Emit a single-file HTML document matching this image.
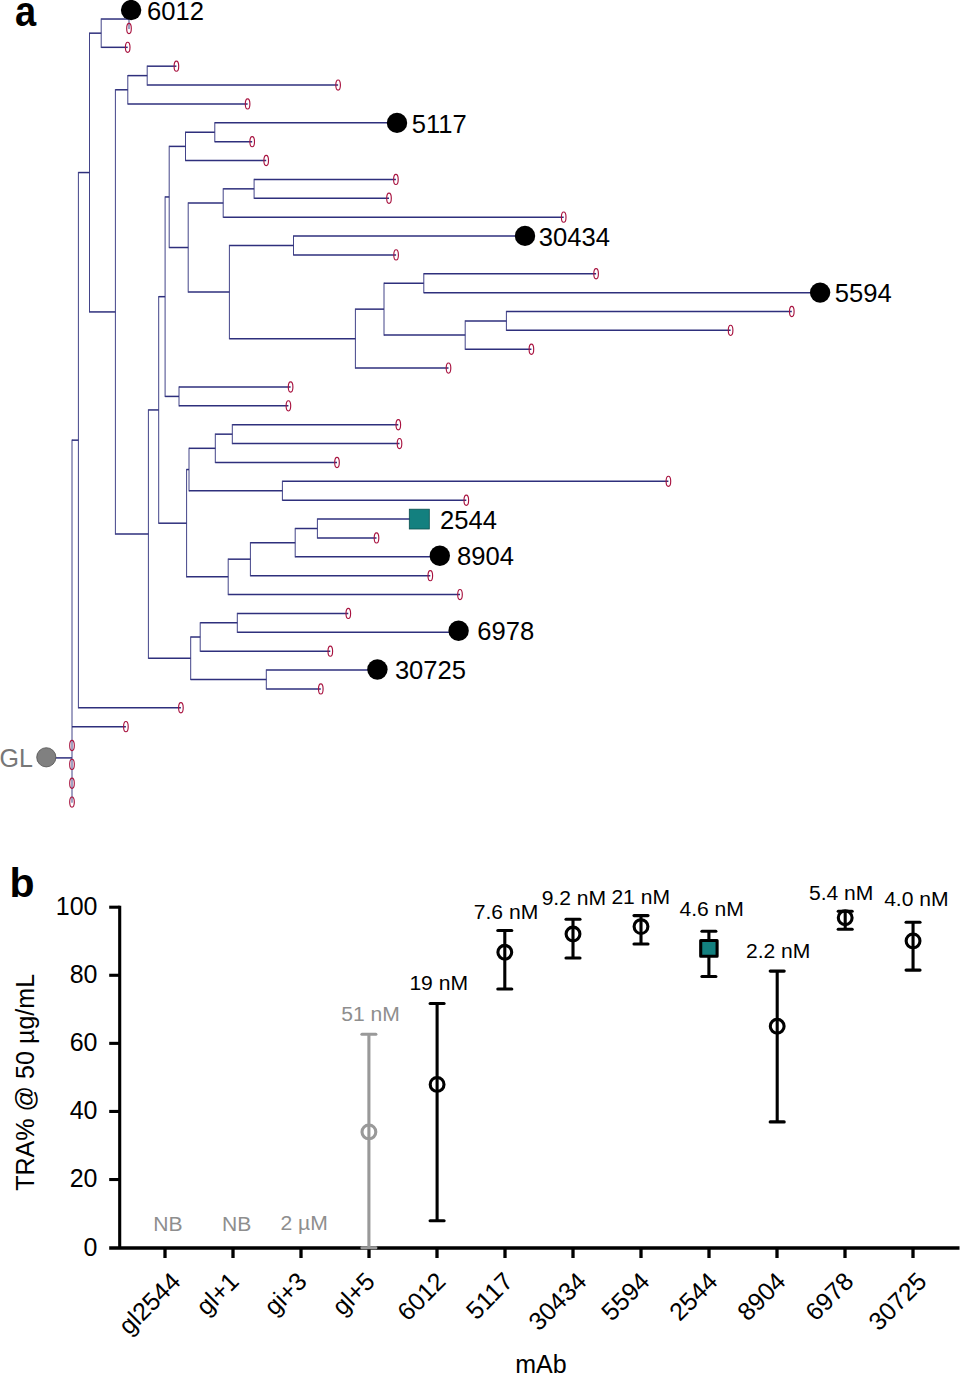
<!DOCTYPE html>
<html><head><meta charset="utf-8"><style>
html,body{margin:0;padding:0;background:#fff;}
svg{display:block;}
text{font-family:"Liberation Sans",sans-serif;}
</style></head><body>
<svg width="961" height="1374" viewBox="0 0 961 1374">
<rect width="961" height="1374" fill="#fff"/>
<text transform="translate(15.0 26) scale(0.885 1)" font-size="43" font-weight="bold">a</text>
<g stroke="#2e2f7c" stroke-width="0.9" fill="none">
<line x1="129.00" y1="8.98" x2="129.00" y2="29.05"/>
<line x1="101.20" y1="18.41" x2="101.20" y2="47.92"/>
<line x1="147.20" y1="65.59" x2="147.20" y2="85.66"/>
<line x1="127.80" y1="75.03" x2="127.80" y2="104.53"/>
<line x1="214.80" y1="122.20" x2="214.80" y2="142.27"/>
<line x1="185.50" y1="131.64" x2="185.50" y2="161.14"/>
<line x1="254.10" y1="178.81" x2="254.10" y2="198.88"/>
<line x1="223.20" y1="188.25" x2="223.20" y2="217.75"/>
<line x1="293.50" y1="235.42" x2="293.50" y2="255.49"/>
<line x1="423.80" y1="273.16" x2="423.80" y2="293.23"/>
<line x1="506.40" y1="310.90" x2="506.40" y2="330.97"/>
<line x1="465.20" y1="320.33" x2="465.20" y2="349.84"/>
<line x1="384.00" y1="282.59" x2="384.00" y2="335.69"/>
<line x1="355.40" y1="308.54" x2="355.40" y2="368.71"/>
<line x1="229.40" y1="244.85" x2="229.40" y2="339.23"/>
<line x1="188.20" y1="202.40" x2="188.20" y2="292.64"/>
<line x1="169.20" y1="145.79" x2="169.20" y2="248.12"/>
<line x1="179.00" y1="386.38" x2="179.00" y2="406.45"/>
<line x1="165.10" y1="196.35" x2="165.10" y2="397.02"/>
<line x1="232.30" y1="424.12" x2="232.30" y2="444.19"/>
<line x1="215.30" y1="433.56" x2="215.30" y2="463.06"/>
<line x1="282.40" y1="480.73" x2="282.40" y2="500.80"/>
<line x1="189.00" y1="447.71" x2="189.00" y2="491.37"/>
<line x1="317.40" y1="518.47" x2="317.40" y2="538.54"/>
<line x1="295.20" y1="527.91" x2="295.20" y2="557.41"/>
<line x1="250.40" y1="542.06" x2="250.40" y2="576.28"/>
<line x1="228.20" y1="558.57" x2="228.20" y2="595.15"/>
<line x1="186.60" y1="468.94" x2="186.60" y2="577.46"/>
<line x1="158.70" y1="296.08" x2="158.70" y2="523.80"/>
<line x1="237.30" y1="612.82" x2="237.30" y2="632.89"/>
<line x1="200.20" y1="622.25" x2="200.20" y2="651.76"/>
<line x1="266.30" y1="669.43" x2="266.30" y2="689.50"/>
<line x1="190.70" y1="636.41" x2="190.70" y2="680.07"/>
<line x1="148.40" y1="409.34" x2="148.40" y2="658.84"/>
<line x1="115.40" y1="89.18" x2="115.40" y2="534.69"/>
<line x1="89.50" y1="32.57" x2="89.50" y2="312.53"/>
<line x1="78.40" y1="171.95" x2="78.40" y2="708.37"/>
<line x1="72.00" y1="439.56" x2="72.00" y2="802.72"/>
</g>
<g stroke="#2e2f7c" stroke-width="1.5" fill="none">
<line x1="101.20" y1="19.02" x2="129.00" y2="19.02"/>
<line x1="101.20" y1="47.32" x2="127.70" y2="47.32"/>
<line x1="89.50" y1="33.17" x2="101.20" y2="33.17"/>
<line x1="147.20" y1="66.19" x2="176.40" y2="66.19"/>
<line x1="147.20" y1="85.06" x2="338.10" y2="85.06"/>
<line x1="127.80" y1="75.62" x2="147.20" y2="75.62"/>
<line x1="127.80" y1="103.93" x2="247.60" y2="103.93"/>
<line x1="115.40" y1="89.78" x2="127.80" y2="89.78"/>
<line x1="214.80" y1="122.80" x2="397.00" y2="122.80"/>
<line x1="214.80" y1="141.67" x2="252.20" y2="141.67"/>
<line x1="185.50" y1="132.24" x2="214.80" y2="132.24"/>
<line x1="185.50" y1="160.54" x2="266.20" y2="160.54"/>
<line x1="169.20" y1="146.39" x2="185.50" y2="146.39"/>
<line x1="254.10" y1="179.41" x2="395.90" y2="179.41"/>
<line x1="254.10" y1="198.28" x2="389.00" y2="198.28"/>
<line x1="223.20" y1="188.84" x2="254.10" y2="188.84"/>
<line x1="223.20" y1="217.15" x2="563.70" y2="217.15"/>
<line x1="188.20" y1="203.00" x2="223.20" y2="203.00"/>
<line x1="293.50" y1="236.02" x2="525.00" y2="236.02"/>
<line x1="293.50" y1="254.89" x2="396.10" y2="254.89"/>
<line x1="229.40" y1="245.45" x2="293.50" y2="245.45"/>
<line x1="423.80" y1="273.76" x2="596.10" y2="273.76"/>
<line x1="423.80" y1="292.63" x2="820.10" y2="292.63"/>
<line x1="384.00" y1="283.19" x2="423.80" y2="283.19"/>
<line x1="506.40" y1="311.50" x2="791.80" y2="311.50"/>
<line x1="506.40" y1="330.37" x2="730.60" y2="330.37"/>
<line x1="465.20" y1="320.94" x2="506.40" y2="320.94"/>
<line x1="465.20" y1="349.24" x2="531.40" y2="349.24"/>
<line x1="384.00" y1="335.09" x2="465.20" y2="335.09"/>
<line x1="355.40" y1="309.14" x2="384.00" y2="309.14"/>
<line x1="355.40" y1="368.11" x2="448.50" y2="368.11"/>
<line x1="229.40" y1="338.63" x2="355.40" y2="338.63"/>
<line x1="188.20" y1="292.04" x2="229.40" y2="292.04"/>
<line x1="169.20" y1="247.52" x2="188.20" y2="247.52"/>
<line x1="165.10" y1="196.95" x2="169.20" y2="196.95"/>
<line x1="179.00" y1="386.98" x2="290.60" y2="386.98"/>
<line x1="179.00" y1="405.85" x2="288.40" y2="405.85"/>
<line x1="165.10" y1="396.42" x2="179.00" y2="396.42"/>
<line x1="158.70" y1="296.68" x2="165.10" y2="296.68"/>
<line x1="232.30" y1="424.72" x2="398.30" y2="424.72"/>
<line x1="232.30" y1="443.59" x2="399.50" y2="443.59"/>
<line x1="215.30" y1="434.16" x2="232.30" y2="434.16"/>
<line x1="215.30" y1="462.46" x2="337.00" y2="462.46"/>
<line x1="189.00" y1="448.31" x2="215.30" y2="448.31"/>
<line x1="282.40" y1="481.33" x2="668.40" y2="481.33"/>
<line x1="282.40" y1="500.20" x2="466.30" y2="500.20"/>
<line x1="189.00" y1="490.76" x2="282.40" y2="490.76"/>
<line x1="186.60" y1="469.54" x2="189.00" y2="469.54"/>
<line x1="317.40" y1="519.07" x2="419.50" y2="519.07"/>
<line x1="317.40" y1="537.94" x2="376.50" y2="537.94"/>
<line x1="295.20" y1="528.51" x2="317.40" y2="528.51"/>
<line x1="295.20" y1="556.81" x2="439.40" y2="556.81"/>
<line x1="250.40" y1="542.66" x2="295.20" y2="542.66"/>
<line x1="250.40" y1="575.68" x2="430.30" y2="575.68"/>
<line x1="228.20" y1="559.17" x2="250.40" y2="559.17"/>
<line x1="228.20" y1="594.55" x2="460.00" y2="594.55"/>
<line x1="186.60" y1="576.86" x2="228.20" y2="576.86"/>
<line x1="158.70" y1="523.20" x2="186.60" y2="523.20"/>
<line x1="148.40" y1="409.94" x2="158.70" y2="409.94"/>
<line x1="237.30" y1="613.42" x2="348.30" y2="613.42"/>
<line x1="237.30" y1="632.29" x2="458.50" y2="632.29"/>
<line x1="200.20" y1="622.86" x2="237.30" y2="622.86"/>
<line x1="200.20" y1="651.16" x2="330.30" y2="651.16"/>
<line x1="190.70" y1="637.01" x2="200.20" y2="637.01"/>
<line x1="266.30" y1="670.03" x2="377.10" y2="670.03"/>
<line x1="266.30" y1="688.90" x2="320.80" y2="688.90"/>
<line x1="190.70" y1="679.47" x2="266.30" y2="679.47"/>
<line x1="148.40" y1="658.24" x2="190.70" y2="658.24"/>
<line x1="115.40" y1="534.09" x2="148.40" y2="534.09"/>
<line x1="89.50" y1="311.93" x2="115.40" y2="311.93"/>
<line x1="78.40" y1="172.55" x2="89.50" y2="172.55"/>
<line x1="78.40" y1="707.77" x2="180.90" y2="707.77"/>
<line x1="72.00" y1="440.16" x2="78.40" y2="440.16"/>
<line x1="72.00" y1="726.64" x2="125.90" y2="726.64"/>
<line x1="46" y1="757.9" x2="72" y2="757.9"/>
</g>
<g stroke="#a8123f" stroke-width="1.15" fill="none">
<ellipse cx="129.00" cy="28.45" rx="2.3" ry="5.1"/>
<ellipse cx="127.70" cy="47.32" rx="2.3" ry="5.1"/>
<ellipse cx="176.40" cy="66.19" rx="2.3" ry="5.1"/>
<ellipse cx="338.10" cy="85.06" rx="2.3" ry="5.1"/>
<ellipse cx="247.60" cy="103.93" rx="2.3" ry="5.1"/>
<ellipse cx="252.20" cy="141.67" rx="2.3" ry="5.1"/>
<ellipse cx="266.20" cy="160.54" rx="2.3" ry="5.1"/>
<ellipse cx="395.90" cy="179.41" rx="2.3" ry="5.1"/>
<ellipse cx="389.00" cy="198.28" rx="2.3" ry="5.1"/>
<ellipse cx="563.70" cy="217.15" rx="2.3" ry="5.1"/>
<ellipse cx="396.10" cy="254.89" rx="2.3" ry="5.1"/>
<ellipse cx="596.10" cy="273.76" rx="2.3" ry="5.1"/>
<ellipse cx="791.80" cy="311.50" rx="2.3" ry="5.1"/>
<ellipse cx="730.60" cy="330.37" rx="2.3" ry="5.1"/>
<ellipse cx="531.40" cy="349.24" rx="2.3" ry="5.1"/>
<ellipse cx="448.50" cy="368.11" rx="2.3" ry="5.1"/>
<ellipse cx="290.60" cy="386.98" rx="2.3" ry="5.1"/>
<ellipse cx="288.40" cy="405.85" rx="2.3" ry="5.1"/>
<ellipse cx="398.30" cy="424.72" rx="2.3" ry="5.1"/>
<ellipse cx="399.50" cy="443.59" rx="2.3" ry="5.1"/>
<ellipse cx="337.00" cy="462.46" rx="2.3" ry="5.1"/>
<ellipse cx="668.40" cy="481.33" rx="2.3" ry="5.1"/>
<ellipse cx="466.30" cy="500.20" rx="2.3" ry="5.1"/>
<ellipse cx="376.50" cy="537.94" rx="2.3" ry="5.1"/>
<ellipse cx="430.30" cy="575.68" rx="2.3" ry="5.1"/>
<ellipse cx="460.00" cy="594.55" rx="2.3" ry="5.1"/>
<ellipse cx="348.30" cy="613.42" rx="2.3" ry="5.1"/>
<ellipse cx="330.30" cy="651.16" rx="2.3" ry="5.1"/>
<ellipse cx="320.80" cy="688.90" rx="2.3" ry="5.1"/>
<ellipse cx="180.90" cy="707.77" rx="2.3" ry="5.1"/>
<ellipse cx="125.90" cy="726.64" rx="2.3" ry="5.1"/>
<ellipse cx="72.00" cy="745.51" rx="2.3" ry="5.1"/>
<ellipse cx="72.00" cy="764.38" rx="2.3" ry="5.1"/>
<ellipse cx="72.00" cy="783.25" rx="2.3" ry="5.1"/>
<ellipse cx="72.00" cy="802.12" rx="2.3" ry="5.1"/>
</g>
<circle cx="131.1" cy="10.1" r="10.2" fill="#000"/>
<circle cx="397.0" cy="122.9" r="10.2" fill="#000"/>
<circle cx="525.0" cy="235.9" r="10.2" fill="#000"/>
<circle cx="820.1" cy="292.6" r="10.2" fill="#000"/>
<circle cx="439.8" cy="555.7" r="10.2" fill="#000"/>
<circle cx="458.6" cy="630.7" r="10.2" fill="#000"/>
<circle cx="377.4" cy="669.5" r="10.2" fill="#000"/>
<rect x="409.3" y="509.2" width="20.0" height="19.8" fill="#13807f" stroke="#0b4e4d" stroke-width="0.8"/>
<circle cx="46.3" cy="757.3" r="9.6" fill="#808080" stroke="#505050" stroke-width="0.8"/>
<text x="-0.5" y="766.7" font-size="25" fill="#777">GL</text>
<g font-size="25.6" fill="#000">
<text x="147.0" y="20.3">6012</text>
<text x="411.7" y="133.3">5117</text>
<text x="538.8" y="245.5">30434</text>
<text x="834.8" y="302.4">5594</text>
<text x="457.1" y="564.9">8904</text>
<text x="477.2" y="640.1">6978</text>
<text x="394.9" y="678.7">30725</text>
<text x="440.0" y="528.7">2544</text>
</g>
<text x="9.6" y="897.4" font-size="41" font-weight="bold">b</text>
<line x1="119.7" y1="905.70" x2="119.7" y2="1248.0" stroke="#000" stroke-width="3.1"/>
<line x1="109.2" y1="1248.0" x2="959.5" y2="1248.0" stroke="#000" stroke-width="3.4"/>
<line x1="109.2" y1="1179.52" x2="119.7" y2="1179.52" stroke="#000" stroke-width="3.1"/>
<line x1="109.2" y1="1111.44" x2="119.7" y2="1111.44" stroke="#000" stroke-width="3.1"/>
<line x1="109.2" y1="1043.36" x2="119.7" y2="1043.36" stroke="#000" stroke-width="3.1"/>
<line x1="109.2" y1="975.28" x2="119.7" y2="975.28" stroke="#000" stroke-width="3.1"/>
<line x1="109.2" y1="907.20" x2="119.7" y2="907.20" stroke="#000" stroke-width="3.1"/>
<line x1="165.0" y1="1248.0" x2="165.0" y2="1258" stroke="#000" stroke-width="3.3"/>
<line x1="233.0" y1="1248.0" x2="233.0" y2="1258" stroke="#000" stroke-width="3.3"/>
<line x1="301.0" y1="1248.0" x2="301.0" y2="1258" stroke="#000" stroke-width="3.3"/>
<line x1="369.0" y1="1248.0" x2="369.0" y2="1258" stroke="#000" stroke-width="3.3"/>
<line x1="437.0" y1="1248.0" x2="437.0" y2="1258" stroke="#000" stroke-width="3.3"/>
<line x1="505.0" y1="1248.0" x2="505.0" y2="1258" stroke="#000" stroke-width="3.3"/>
<line x1="573.0" y1="1248.0" x2="573.0" y2="1258" stroke="#000" stroke-width="3.3"/>
<line x1="641.0" y1="1248.0" x2="641.0" y2="1258" stroke="#000" stroke-width="3.3"/>
<line x1="709.0" y1="1248.0" x2="709.0" y2="1258" stroke="#000" stroke-width="3.3"/>
<line x1="777.0" y1="1248.0" x2="777.0" y2="1258" stroke="#000" stroke-width="3.3"/>
<line x1="845.0" y1="1248.0" x2="845.0" y2="1258" stroke="#000" stroke-width="3.3"/>
<line x1="913.0" y1="1248.0" x2="913.0" y2="1258" stroke="#000" stroke-width="3.3"/>
<g font-size="25" fill="#000">
<text x="97.5" y="1255.50" text-anchor="end">0</text>
<text x="97.5" y="1187.42" text-anchor="end">20</text>
<text x="97.5" y="1119.34" text-anchor="end">40</text>
<text x="97.5" y="1051.26" text-anchor="end">60</text>
<text x="97.5" y="983.18" text-anchor="end">80</text>
<text x="97.5" y="915.10" text-anchor="end">100</text>
</g>
<text transform="translate(33.9 1082.35) rotate(-90)" font-size="25.1" text-anchor="middle">TRA% @ 50 µg/mL</text>
<g stroke="#999999" stroke-width="3.1" fill="none" stroke-linecap="round"><line x1="368.9" y1="1034.2" x2="368.9" y2="1247.7" stroke-linecap="butt"/><line x1="361.90" y1="1034.2" x2="375.90" y2="1034.2"/><line x1="361.90" y1="1247.7" x2="375.90" y2="1247.7"/>
<circle cx="368.9" cy="1131.9" r="6.9"/>
</g>
<g stroke="#000" stroke-width="3.1" fill="none" stroke-linecap="round"><line x1="437.1" y1="1003.5" x2="437.1" y2="1220.7" stroke-linecap="butt"/><line x1="430.10" y1="1003.5" x2="444.10" y2="1003.5"/><line x1="430.10" y1="1220.7" x2="444.10" y2="1220.7"/>
<circle cx="437.1" cy="1084.4" r="6.9"/>
</g>
<g stroke="#000" stroke-width="3.1" fill="none" stroke-linecap="round"><line x1="504.8" y1="930.5" x2="504.8" y2="989.0" stroke-linecap="butt"/><line x1="497.80" y1="930.5" x2="511.80" y2="930.5"/><line x1="497.80" y1="989.0" x2="511.80" y2="989.0"/>
<circle cx="504.8" cy="952.3" r="6.9"/>
</g>
<g stroke="#000" stroke-width="3.1" fill="none" stroke-linecap="round"><line x1="573.0" y1="919.2" x2="573.0" y2="958.0" stroke-linecap="butt"/><line x1="566.00" y1="919.2" x2="580.00" y2="919.2"/><line x1="566.00" y1="958.0" x2="580.00" y2="958.0"/>
<circle cx="573.0" cy="934.0" r="6.9"/>
</g>
<g stroke="#000" stroke-width="3.1" fill="none" stroke-linecap="round"><line x1="641.0" y1="915.6" x2="641.0" y2="944.0" stroke-linecap="butt"/><line x1="634.00" y1="915.6" x2="648.00" y2="915.6"/><line x1="634.00" y1="944.0" x2="648.00" y2="944.0"/>
<circle cx="641.0" cy="926.6" r="6.9"/>
</g>
<g stroke="#000" stroke-width="3.1" fill="none" stroke-linecap="round"><line x1="708.9" y1="931.2" x2="708.9" y2="976.5" stroke-linecap="butt"/><line x1="701.90" y1="931.2" x2="715.90" y2="931.2"/><line x1="701.90" y1="976.5" x2="715.90" y2="976.5"/>
<rect x="700.70" y="940.50" width="16.4" height="15.8" fill="#13807f" stroke-linejoin="round"/>
</g>
<g stroke="#000" stroke-width="3.1" fill="none" stroke-linecap="round"><line x1="777.2" y1="971.1" x2="777.2" y2="1121.9" stroke-linecap="butt"/><line x1="770.20" y1="971.1" x2="784.20" y2="971.1"/><line x1="770.20" y1="1121.9" x2="784.20" y2="1121.9"/>
<circle cx="777.2" cy="1026.2" r="6.9"/>
</g>
<g stroke="#000" stroke-width="3.1" fill="none" stroke-linecap="round"><line x1="845.2" y1="911.2" x2="845.2" y2="929.3" stroke-linecap="butt"/><line x1="838.20" y1="911.2" x2="852.20" y2="911.2"/><line x1="838.20" y1="929.3" x2="852.20" y2="929.3"/>
<circle cx="845.2" cy="917.7" r="6.9"/>
</g>
<g stroke="#000" stroke-width="3.1" fill="none" stroke-linecap="round"><line x1="913.05" y1="922.3" x2="913.05" y2="970.1" stroke-linecap="butt"/><line x1="906.05" y1="922.3" x2="920.05" y2="922.3"/><line x1="906.05" y1="970.1" x2="920.05" y2="970.1"/>
<circle cx="913.05" cy="940.9" r="6.9"/>
</g>
<g font-size="21.1">
<text x="168.0" y="1231.0" fill="#8e8e8e" text-anchor="middle">NB</text>
<text x="236.7" y="1231.0" fill="#8e8e8e" text-anchor="middle">NB</text>
<text x="304.2" y="1229.5" fill="#8e8e8e" text-anchor="middle">2 µM</text>
<text x="370.5" y="1021.0" fill="#8e8e8e" text-anchor="middle">51 nM</text>
<text x="438.7" y="990.2" fill="#000" text-anchor="middle">19 nM</text>
<text x="506.0" y="918.7" fill="#000" text-anchor="middle">7.6 nM</text>
<text x="573.9" y="904.6" fill="#000" text-anchor="middle">9.2 nM</text>
<text x="640.7" y="903.8" fill="#000" text-anchor="middle">21 nM</text>
<text x="711.7" y="916.0" fill="#000" text-anchor="middle">4.6 nM</text>
<text x="778.2" y="958.3" fill="#000" text-anchor="middle">2.2 nM</text>
<text x="841.2" y="899.9" fill="#000" text-anchor="middle">5.4 nM</text>
<text x="916.4" y="905.8" fill="#000" text-anchor="middle">4.0 nM</text>
</g>
<g font-size="25" fill="#000">
<text x="155.5" y="1309.5" text-anchor="middle" transform="rotate(-45 155.5 1309.5)">gl2544</text>
<text x="223.5" y="1299.91" text-anchor="middle" transform="rotate(-45 223.5 1299.91)">gl+1</text>
<text x="291.5" y="1299.91" text-anchor="middle" transform="rotate(-45 291.5 1299.91)">gi+3</text>
<text x="359.5" y="1299.91" text-anchor="middle" transform="rotate(-45 359.5 1299.91)">gl+5</text>
<text x="427.5" y="1302.62" text-anchor="middle" transform="rotate(-45 427.5 1302.62)">6012</text>
<text x="495.5" y="1301.96" text-anchor="middle" transform="rotate(-45 495.5 1301.96)">5117</text>
<text x="563.5" y="1307.54" text-anchor="middle" transform="rotate(-45 563.5 1307.54)">30434</text>
<text x="631.5" y="1302.62" text-anchor="middle" transform="rotate(-45 631.5 1302.62)">5594</text>
<text x="699.5" y="1302.62" text-anchor="middle" transform="rotate(-45 699.5 1302.62)">2544</text>
<text x="767.5" y="1302.62" text-anchor="middle" transform="rotate(-45 767.5 1302.62)">8904</text>
<text x="835.5" y="1302.62" text-anchor="middle" transform="rotate(-45 835.5 1302.62)">6978</text>
<text x="903.5" y="1307.54" text-anchor="middle" transform="rotate(-45 903.5 1307.54)">30725</text>
</g>
<text x="541" y="1373" font-size="25" text-anchor="middle">mAb</text>
</svg>
</body></html>
